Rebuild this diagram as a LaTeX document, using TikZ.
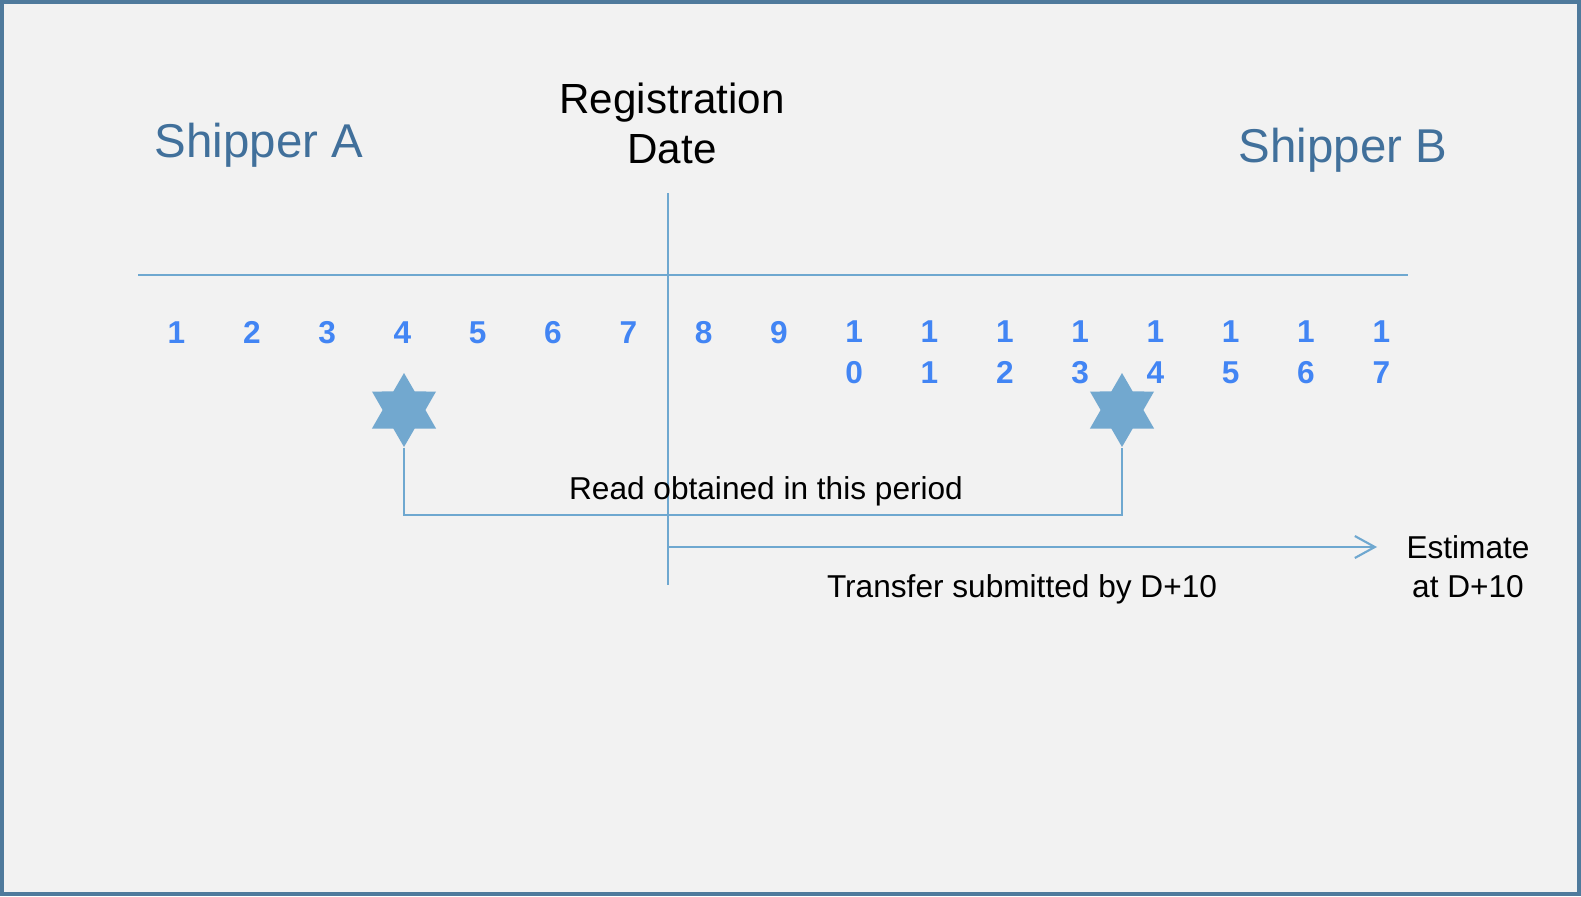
\documentclass[tikz,border=0pt]{standalone}
\usepackage{fontspec}
\setmainfont{Liberation Sans}
\usetikzlibrary{arrows.meta, positioning, shapes.geometric}

\definecolor{frameblue}{RGB}{79,122,156}
\definecolor{pagegray}{RGB}{242,242,242}
\definecolor{lineblue}{RGB}{111,168,208}
\definecolor{starblue}{RGB}{114,168,207}
\definecolor{daysblue}{RGB}{66,133,244}
\definecolor{shipblue}{RGB}{65,112,155}

\begin{document}
\begin{tikzpicture}[
    x=0.02cm, y=-0.02cm,
    shipper/.style={text=shipblue, font=\fontsize{27}{32}\selectfont},
    day/.style={text=daysblue, font=\fontsize{18}{22.8}\selectfont\bfseries, align=center, inner sep=0pt, anchor=base},
    marker/.style={star, star points=6, star point ratio=1.73, fill=starblue, inner sep=0pt, minimum size=1.48cm},
    guide/.style={draw=lineblue, line width=1.2pt},
    arrow/.style={guide, -{Straight Barb[length=0.4cm, width=0.44cm]}},
    note/.style={font=\fontsize{18}{22.2}\selectfont, align=center}
]

% Page and frame
\useasboundingbox (0,0) rectangle (1581,896);
\fill[pagegray] (0,0) rectangle (1581,896);
\draw[frameblue, line width=2.3pt] (2,2) rectangle (1579,894);

% Titles
\node[shipper] (shipA) at (259,145) {Shipper A};
\node[shipper] (shipB) at (1343,150) {Shipper B};
\node[font=\fontsize{24}{28.5}\selectfont, align=center] (regdate) at (672,123) {Registration\\Date};

% Timeline and registration date
\coordinate (tlstart) at (138,275);
\coordinate (tlend) at (1408,275);
\coordinate (regtop) at (668,193);
\coordinate (regbot) at (668,585);
\draw[guide] (tlstart) -- (tlend);
\draw[guide] (regtop) -- (regbot);

% Days (two-line days sit on the lower baseline)
\node[day] (d1) at (176.5,343) {1};
\node[day] (d2) at (251.8,343) {2};
\node[day] (d3) at (327.1,343) {3};
\node[day] (d4) at (402.4,343) {4};
\node[day] (d5) at (477.7,343) {5};
\node[day] (d6) at (553.0,343) {6};
\node[day] (d7) at (628.3,343) {7};
\node[day] (d8) at (703.6,343) {8};
\node[day] (d9) at (778.9,343) {9};
\node[day] (d10) at (854.2,383) {1\\0};
\node[day] (d11) at (929.5,383) {1\\1};
\node[day] (d12) at (1004.8,383) {1\\2};
\node[day] (d13) at (1080.1,383) {1\\3};
\node[day] (d14) at (1155.4,383) {1\\4};
\node[day] (d15) at (1230.7,383) {1\\5};
\node[day] (d16) at (1306.0,383) {1\\6};
\node[day] (d17) at (1381.3,383) {1\\7};

% Reads
\node[marker] (readA) at (404,410) {};
\node[marker] (readB) at (1122,410) {};
\coordinate (readbase) at (404,515);
\draw[guide] (readA.south) -- (readbase) -| (readB.south);
\node[note] (readnote) at (766,491) {Read obtained in this period};

% Transfer
\coordinate (transfer) at (668,547);
\coordinate (estimateat) at (1377,547);
\draw[arrow] (transfer) -- (estimateat);
\node[note] (transfernote) at (1022,589) {Transfer submitted by D+10};
\node[note] (estimate) at (1468,567) {Estimate\\at D+10};

\end{tikzpicture}
\end{document}
